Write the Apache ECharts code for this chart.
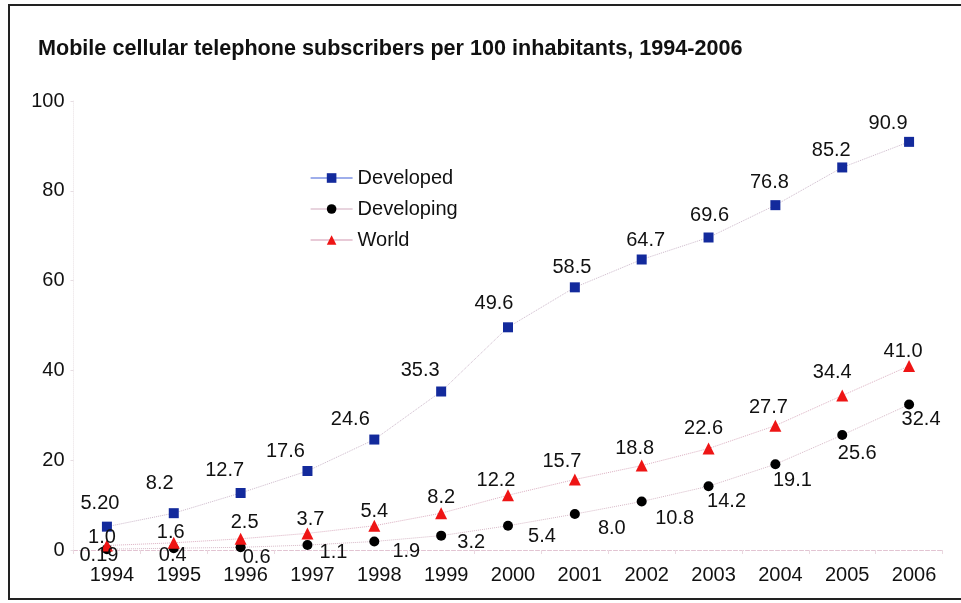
<!DOCTYPE html>
<html>
<head>
<meta charset="utf-8">
<title>Mobile cellular telephone subscribers per 100 inhabitants, 1994-2006</title>
<script src="https://cdn.jsdelivr.net/npm/echarts@6/dist/echarts.min.js"></script>
<style>
  html, body { margin: 0; padding: 0; background: #fff; }
  #chart { width: 961px; height: 603px; }
</style>
</head>
<body>
<div id="chart"></div>
<script>
// Subscribers per 100 inhabitants (kept as printed so labels show the same digits)
const years = ['1994', '1995', '1996', '1997', '1998', '1999', '2000', '2001', '2002', '2003', '2004', '2005', '2006'];
const developed = ['5.20', '8.2', '12.7', '17.6', '24.6', '35.3', '49.6', '58.5', '64.7', '69.6', '76.8', '85.2', '90.9'];
const developing = ['0.19', '0.4', '0.6', '1.1', '1.9', '3.2', '5.4', '8.0', '10.8', '14.2', '19.1', '25.6', '32.4'];
const world = ['1.0', '1.6', '2.5', '3.7', '5.4', '8.2', '12.2', '15.7', '18.8', '22.6', '27.7', '34.4', '41.0'];
const yTicks = [0, 20, 40, 60, 80, 100];

// Label nudges (pixels from the marker centre)
const developedShift = [[-7, -23], [-14, -30], [-16, -22], [-22, -19], [-24, -20], [-21, -21], [-14, -24], [-3, -20], [4, -19], [1, -22], [-6, -23], [-11, -17], [-21, -18]];
const developingShift = [[-8, 6], [-1, 7], [16, 10], [26, 7], [32, 10], [30, 7], [34, 11], [37, 14], [33, 17], [18, 15], [17, 16], [15, 18], [12, 15]];
const worldShift = [[-5, -8], [-3, -10], [4, -16], [3, -14], [0, -14], [0, -16], [-12, -15], [-13, -18], [-7, -17], [-5, -20], [-7, -18], [-10, -23], [-6, -14]];

const FONT = 'Liberation Sans, Arial, sans-serif';

function points(values) {
  return values.map(txt => ({
    value: Number(txt),
    label: { formatter: txt }
  }));
}

function lineSeries(name, values, shifts, symbol, size, color, lineColor) {
  return {
    name: name,
    type: 'line',
    data: points(values),
    symbol: symbol,
    symbolSize: size,
    showAllSymbol: true,
    itemStyle: { color: color },
    lineStyle: { color: lineColor, width: 1, type: 'dotted' },
    label: {
      show: true,
      position: 'inside',
      color: '#111',
      fontSize: 20,
      fontFamily: FONT
    },
    // move each value label off its marker
    labelLayout: function (p) {
      const s = shifts[p.dataIndex];
      return { dx: s[0], dy: s[1], hideOverlap: false };
    },
    emphasis: { disabled: true },
    animation: false
  };
}

const chart = echarts.init(document.getElementById('chart'), null, { renderer: 'canvas' });

chart.setOption({
  backgroundColor: '#fff',
  animation: false,
  title: {
    text: 'Mobile cellular telephone subscribers per 100 inhabitants, 1994-2006',
    left: 33,
    top: 33,
    textStyle: { fontFamily: FONT, fontSize: 21.6, fontWeight: 'bold', color: '#111' }
  },
  legend: {
    orient: 'vertical',
    left: 305,
    top: 163,
    itemWidth: 42,
    itemHeight: 12,
    itemGap: 11,
    textStyle: { fontFamily: FONT, fontSize: 20, color: '#111' },
    data: [
      { name: 'Developed', lineStyle: { color: '#3f5fd8', type: 'solid', width: 1.2 } },
      { name: 'Developing', lineStyle: { color: '#d2a9bd', type: 'solid', width: 1.2 } },
      { name: 'World', lineStyle: { color: '#d295b0', type: 'solid', width: 1.2 } }
    ]
  },
  grid: { left: 73.5, right: 18.5, top: 101, bottom: 53 },
  xAxis: {
    type: 'category',
    data: years,
    boundaryGap: true,
    axisLine: { lineStyle: { color: '#e2c4d2', type: 'dashed', width: 1 } },
    axisTick: { show: true, length: 4, lineStyle: { color: '#ead8e0' } },
    axisLabel: { fontFamily: FONT, fontSize: 20, color: '#111', margin: 15, padding: [0, 0, 0, 10] }
  },
  yAxis: {
    type: 'value',
    min: yTicks[0],
    max: yTicks[yTicks.length - 1],
    interval: yTicks[1] - yTicks[0],
    axisLine: { show: true, lineStyle: { color: '#f1ecee', type: 'dotted' } },
    axisTick: { show: true, length: 3, lineStyle: { color: '#e6dde2' } },
    splitLine: { show: false },
    axisLabel: { fontFamily: FONT, fontSize: 20, color: '#111', margin: 9 }
  },
  graphic: [{
    type: 'rect',
    shape: { x: 9, y: 5, width: 1000, height: 594 },
    style: { fill: null, stroke: '#222', lineWidth: 2 },
    silent: true,
    z: 100
  }],
  series: [
    lineSeries('Developed', developed, developedShift, 'rect', 10, '#132a9c', '#cdb9cb'),
    lineSeries('Developing', developing, developingShift, 'circle', 10, '#000', '#d6b8c6'),
    lineSeries('World', world, worldShift, 'triangle', 12, '#ee1515', '#dcb0c2')
  ]
});
</script>
</body>
</html>
